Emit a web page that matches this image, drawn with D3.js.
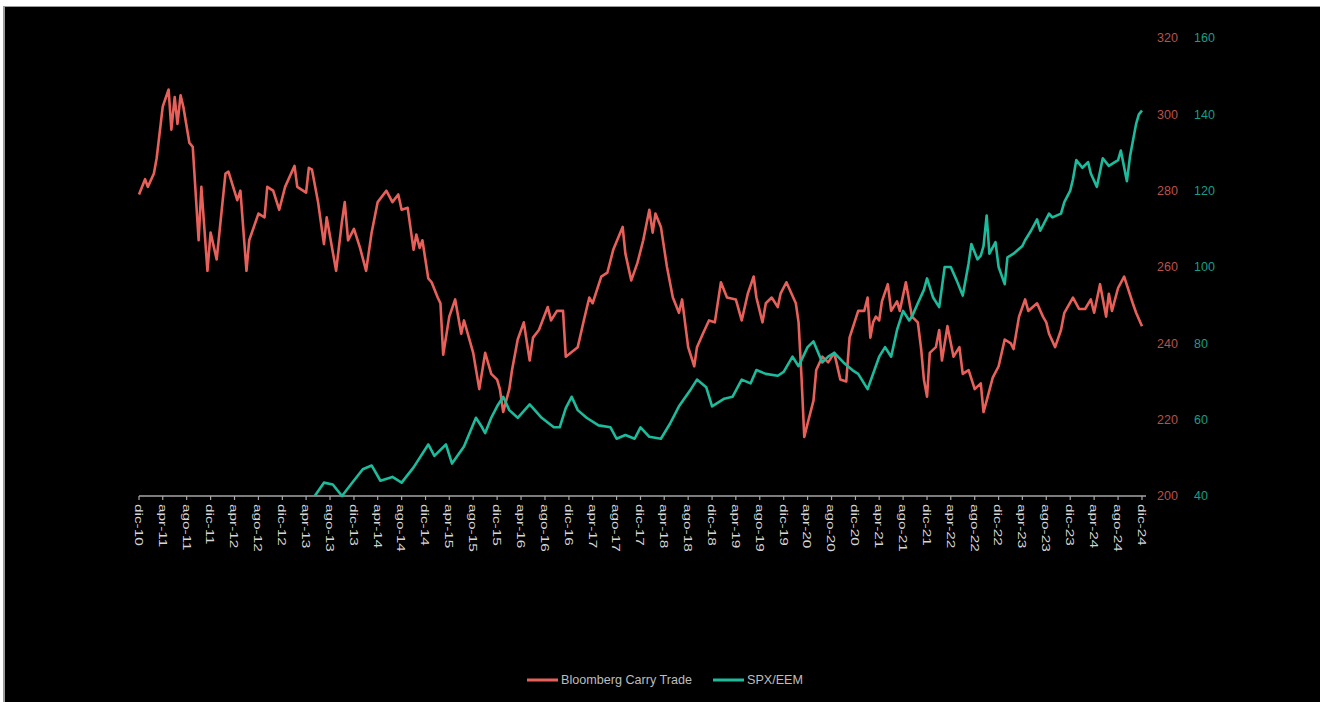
<!DOCTYPE html>
<html>
<head>
<meta charset="utf-8">
<script src="https://cdn.jsdelivr.net/npm/d3@7"></script>
<style>
  html, body { margin: 0; padding: 0; background: #fff; }
  svg { display: block; }
</style>
</head>
<body>
<svg id="chart"></svg>
<script>
// Bloomberg Carry Trade (eje rojo) vs SPX/EEM (eje verde)
const carryDates = [
  "2010-12-01","2011-01-01","2011-01-15","2011-02-15","2011-03-01","2011-04-01","2011-05-01","2011-05-15",
  "2011-06-01","2011-06-15","2011-07-01","2011-07-15","2011-08-15","2011-09-01","2011-10-01","2011-10-15",
  "2011-11-15","2011-12-01","2012-01-01","2012-02-15","2012-03-01","2012-04-15","2012-05-01","2012-06-01",
  "2012-06-15","2012-08-01","2012-09-01","2012-09-15","2012-10-15","2012-11-15","2012-12-15","2013-02-01",
  "2013-02-15","2013-04-01","2013-04-15","2013-05-01","2013-06-01","2013-07-01","2013-07-15","2013-09-01",
  "2013-10-01","2013-10-15","2013-11-01","2013-12-01","2014-01-01","2014-02-01","2014-03-01","2014-04-01",
  "2014-05-15","2014-06-15","2014-07-15","2014-08-01","2014-09-01","2014-10-01","2014-10-15","2014-11-01",
  "2014-11-15","2014-12-15","2015-01-01","2015-02-01","2015-02-15","2015-03-01","2015-04-01","2015-05-01",
  "2015-06-01","2015-06-15","2015-08-01","2015-09-01","2015-10-01","2015-11-01","2015-12-01","2015-12-15",
  "2016-01-01","2016-02-01","2016-02-15","2016-03-15","2016-04-15","2016-05-15","2016-06-01","2016-07-01",
  "2016-08-15","2016-09-01","2016-10-01","2016-11-01","2016-11-15","2017-01-15","2017-02-15","2017-03-15",
  "2017-04-01","2017-05-15","2017-06-15","2017-07-15","2017-09-01","2017-09-15","2017-10-15","2017-11-15",
  "2017-12-15","2018-01-15","2018-02-01","2018-02-15","2018-03-15","2018-04-15","2018-05-15","2018-06-15",
  "2018-07-01","2018-08-01","2018-09-01","2018-09-15","2018-10-15","2018-11-15","2018-12-15","2019-01-15",
  "2019-02-15","2019-04-01","2019-05-01","2019-06-01","2019-07-01","2019-07-15","2019-08-15","2019-09-01",
  "2019-10-01","2019-11-01","2019-11-15","2019-12-15","2020-02-01","2020-02-15","2020-03-01","2020-03-15",
  "2020-04-01","2020-05-01","2020-05-15","2020-06-15","2020-07-15","2020-08-15","2020-09-15","2020-10-15",
  "2020-11-01","2020-12-15","2021-01-15","2021-02-01","2021-02-15","2021-03-01","2021-03-15","2021-04-01",
  "2021-04-15","2021-05-15","2021-06-01","2021-07-01","2021-07-15","2021-08-15","2021-09-15","2021-10-15",
  "2021-11-01","2021-11-15","2021-12-01","2021-12-15","2022-01-15","2022-02-01","2022-02-15","2022-03-15",
  "2022-04-15","2022-05-15","2022-06-01","2022-07-01","2022-08-01","2022-09-01","2022-09-15","2022-10-01",
  "2022-11-01","2022-12-01","2023-01-01","2023-02-01","2023-02-15","2023-03-15","2023-04-15","2023-05-01",
  "2023-06-15","2023-07-15","2023-08-01","2023-08-15","2023-09-15","2023-10-15","2023-11-01","2023-12-15",
  "2024-01-15","2024-02-15","2024-03-15","2024-04-01","2024-05-01","2024-06-01","2024-06-15","2024-07-01",
  "2024-08-01","2024-09-01","2024-10-15","2024-11-01","2024-12-01"
];
const carryValues = [
  279, 283, 281, 284.5, 288.5, 302, 306.5, 296,
  304.5, 297.5, 305, 302, 292.5, 291.5, 267, 281,
  259, 269, 262, 284.5, 285, 277.5, 280, 259,
  267, 274, 273, 281, 280, 275, 281, 286.5,
  281, 279.5, 286, 285.5, 277, 266, 273, 259,
  272, 277, 267, 270, 265, 259, 269, 277,
  280, 277, 279, 275, 275.5, 264.5, 268.5, 265,
  267, 257, 256, 252, 250.5, 237, 247, 251.5,
  242.5, 246, 237.5, 228, 237.5, 232, 230.5, 228,
  222, 228, 233, 241, 245.5, 235.5, 241.5, 243.5,
  249.5, 246, 248.5, 248.5, 236.5, 239, 246, 252,
  250.5, 257.5, 258.5, 264.5, 270.5, 263.5, 256.5, 261,
  267, 275, 269, 274, 270.5, 260, 252, 248,
  251.5, 239, 234, 239, 242.5, 246, 245.5, 256,
  252, 251.5, 246, 253, 257.5, 252, 245.5, 250.5,
  252, 249.5, 253, 256, 250.5, 245.5, 231, 215.5,
  219, 225, 233, 236.5, 235, 237.5, 230.5, 230,
  241.5, 248.5, 248.5, 252, 241.5, 245.5, 247, 246,
  251, 255.5, 248.5, 251, 248.5, 256, 247, 245.5,
  238.5, 230.5, 226, 237.5, 239, 243.5, 235.5, 244.5,
  236.5, 239, 232, 233, 228, 229.5, 222, 225,
  231, 234, 241, 240, 238.5, 247, 251.5, 248.5,
  250.5, 247, 245.5, 242.5, 239, 243.5, 248, 252,
  249, 249, 251.5, 248, 255.5, 247, 253, 248.5,
  254.5, 257.5, 250.5, 248, 244.5
];

const spxDates = [
  "2013-05-15","2013-07-01","2013-08-15","2013-10-01","2013-11-15","2014-01-15","2014-03-01","2014-04-15",
  "2014-06-15","2014-08-01","2014-10-01","2014-12-15","2015-01-15","2015-03-15","2015-04-15","2015-06-15",
  "2015-08-15","2015-09-15","2015-10-01","2015-11-01","2015-12-01","2016-01-01","2016-02-01","2016-03-15",
  "2016-05-15","2016-07-15","2016-09-15","2016-10-15","2016-11-15","2016-12-15","2017-01-15","2017-03-01",
  "2017-05-01","2017-07-01","2017-08-01","2017-09-15","2017-11-01","2017-12-01","2018-01-15","2018-03-15",
  "2018-05-01","2018-06-15","2018-08-15","2018-09-15","2018-11-01","2018-12-01","2019-02-01","2019-03-15",
  "2019-05-01","2019-06-15","2019-07-15","2019-09-01","2019-11-01","2019-12-01","2020-01-15","2020-02-15",
  "2020-04-01","2020-05-01","2020-06-15","2020-07-15","2020-08-15","2020-10-01","2020-11-15","2020-12-15",
  "2021-02-01","2021-04-01","2021-05-01","2021-06-01","2021-07-01","2021-08-01","2021-09-01","2021-09-15",
  "2021-10-15","2021-11-15","2021-12-01","2022-01-01","2022-02-01","2022-03-01","2022-04-01","2022-05-01",
  "2022-06-01","2022-07-01","2022-07-15","2022-08-15","2022-09-01","2022-09-15","2022-10-01","2022-10-15",
  "2022-11-15","2022-12-01","2023-01-01","2023-01-15","2023-02-15","2023-04-01","2023-04-15","2023-05-15",
  "2023-06-15","2023-07-01","2023-08-15","2023-09-01","2023-10-15","2023-11-01","2023-12-01","2023-12-15",
  "2024-01-01","2024-02-01","2024-03-01","2024-03-15","2024-04-15","2024-05-15","2024-06-15","2024-08-01",
  "2024-08-15","2024-09-15","2024-10-01","2024-11-01","2024-11-15","2024-12-01"
];
const spxValues = [
  40, 43.5, 43, 40, 43, 47, 48, 44,
  45, 43.5, 47.5, 53.5, 50.5, 53.5, 48.5, 53,
  60.5, 58, 56.5, 60.5, 63.5, 66, 62.5, 60.5,
  64, 60.5, 58, 58, 63, 66, 62.5, 60.5,
  58.5, 58, 55, 56, 55, 58, 55.5, 55,
  59, 63.5, 68, 70.5, 68.5, 63.5, 65.5, 66,
  70.5, 69.5, 73, 72, 71.5, 72.5, 76.5, 74,
  79, 80.5, 75, 76.5, 77.5, 75, 73, 72,
  68, 76.5, 79, 76.5, 83.5, 88.5, 86, 87,
  90.5, 94, 97, 92, 89.5, 100, 100, 96.5,
  92.5, 101, 106, 102, 103, 105.5, 113.5, 103.5,
  106.5, 100, 95.5, 102.5, 103.5, 105.5, 107, 109.5,
  112.5, 109.5, 114, 113, 114, 117, 120, 123,
  128, 126, 127.5, 124.5, 121, 128.5, 126.5, 128,
  130.5, 122.5, 129, 137.5, 140, 141
];

const carryTicks = [200, 220, 240, 260, 280, 300, 320];
const spxTicks = [40, 60, 80, 100, 120, 140, 160];
const monthNames = ["ene","feb","mar","apr","may","jun","jul","ago","sep","oct","nov","dic"];
const seriesNames = ["Bloomberg Carry Trade", "SPX/EEM"];

const W = 1320, H = 702;
const C_RED = '#e8605a', C_TEAL = '#1cbb9c';

const svg = d3.select('#chart').attr('width', W).attr('height', H);

// marco: franja blanca arriba e izquierda, borde gris, fondo negro
svg.append('rect').attr('width', W).attr('height', H).attr('fill', '#fff');
svg.append('rect').attr('x', 3).attr('y', 6).attr('width', W - 3).attr('height', H - 6).attr('fill', '#9a9a9a');
svg.append('rect').attr('x', 5).attr('y', 7).attr('width', W - 5).attr('height', H - 7).attr('fill', '#000');

const parse = d3.timeParse('%Y-%m-%d');
const x = d3.scaleTime()
    .domain([parse('2010-12-01'), parse('2024-12-01')])
    .range([139, 1142]);
const yCarry = d3.scaleLinear().domain([200, 320]).range([496, 38]);
const ySpx = d3.scaleLinear().domain([40, 160]).range([496, 38]);

const carry = carryDates.map((d, i) => ({ date: parse(d), v: carryValues[i] }));
const spx = spxDates.map((d, i) => ({ date: parse(d), v: spxValues[i] }));

// eje X
const tickDates = d3.timeMonth.range(parse('2010-12-01'), parse('2024-12-02'), 4);
const fmt = d => monthNames[d.getMonth()] + '-' + String(d.getFullYear()).slice(2);

const xAxis = svg.append('g').attr('transform', 'translate(0,496)');
xAxis.append('line')
    .attr('x1', 139).attr('x2', 1146)
    .attr('stroke', '#a6a6a6').attr('stroke-width', 1.5);
xAxis.selectAll('line.tick')
    .data(tickDates)
    .enter().append('line')
    .attr('class', 'tick')
    .attr('x1', d => x(d)).attr('x2', d => x(d))
    .attr('y1', 0).attr('y2', 4)
    .attr('stroke', '#a6a6a6').attr('stroke-width', 1.2);
xAxis.selectAll('text')
    .data(tickDates)
    .enter().append('text')
    .attr('transform', d => `translate(${x(d)},8) rotate(90) scale(1.3,1)`)
    .attr('dy', '0.35em')
    .attr('text-anchor', 'start')
    .attr('fill', '#d6d6d6')
    .attr('font-family', 'Liberation Sans, Arial, sans-serif')
    .attr('font-size', 11.8)
    .text(fmt);

// ejes Y a la derecha
svg.append('g').selectAll('text')
    .data(carryTicks)
    .enter().append('text')
    .attr('x', 1157).attr('y', d => yCarry(d))
    .attr('dy', '0.35em')
    .attr('fill', '#b9504b')
    .attr('font-family', 'Liberation Sans, Arial, sans-serif')
    .attr('font-size', 12.5)
    .text(d => d);

svg.append('g').selectAll('text')
    .data(spxTicks)
    .enter().append('text')
    .attr('x', 1194).attr('y', d => ySpx(d))
    .attr('dy', '0.35em')
    .attr('fill', '#179e86')
    .attr('font-family', 'Liberation Sans, Arial, sans-serif')
    .attr('font-size', 12.5)
    .text(d => d);

// líneas
svg.append('path')
    .datum(carry)
    .attr('fill', 'none')
    .attr('stroke', C_RED)
    .attr('stroke-width', 2.6)
    .attr('stroke-linejoin', 'round')
    .attr('d', d3.line().x(d => x(d.date)).y(d => yCarry(d.v)));

svg.append('path')
    .datum(spx)
    .attr('fill', 'none')
    .attr('stroke', C_TEAL)
    .attr('stroke-width', 2.6)
    .attr('stroke-linejoin', 'round')
    .attr('d', d3.line().x(d => x(d.date)).y(d => ySpx(d.v)));

// leyenda
const legend = svg.append('g').attr('transform', 'translate(0,680)');
const legendItems = [
    { name: seriesNames[0], color: C_RED, x: 527 },
    { name: seriesNames[1], color: C_TEAL, x: 713 }
];
const li = legend.selectAll('g')
    .data(legendItems)
    .enter().append('g')
    .attr('transform', d => `translate(${d.x},0)`);
li.append('line')
    .attr('x1', 0).attr('x2', 31)
    .attr('stroke', d => d.color)
    .attr('stroke-width', 3);
li.append('text')
    .attr('x', 34)
    .attr('dy', '0.35em')
    .attr('fill', '#bdbdbd')
    .attr('font-family', 'Liberation Sans, Arial, sans-serif')
    .attr('font-size', 12.6)
    .text(d => d.name);
</script>
</body>
</html>
